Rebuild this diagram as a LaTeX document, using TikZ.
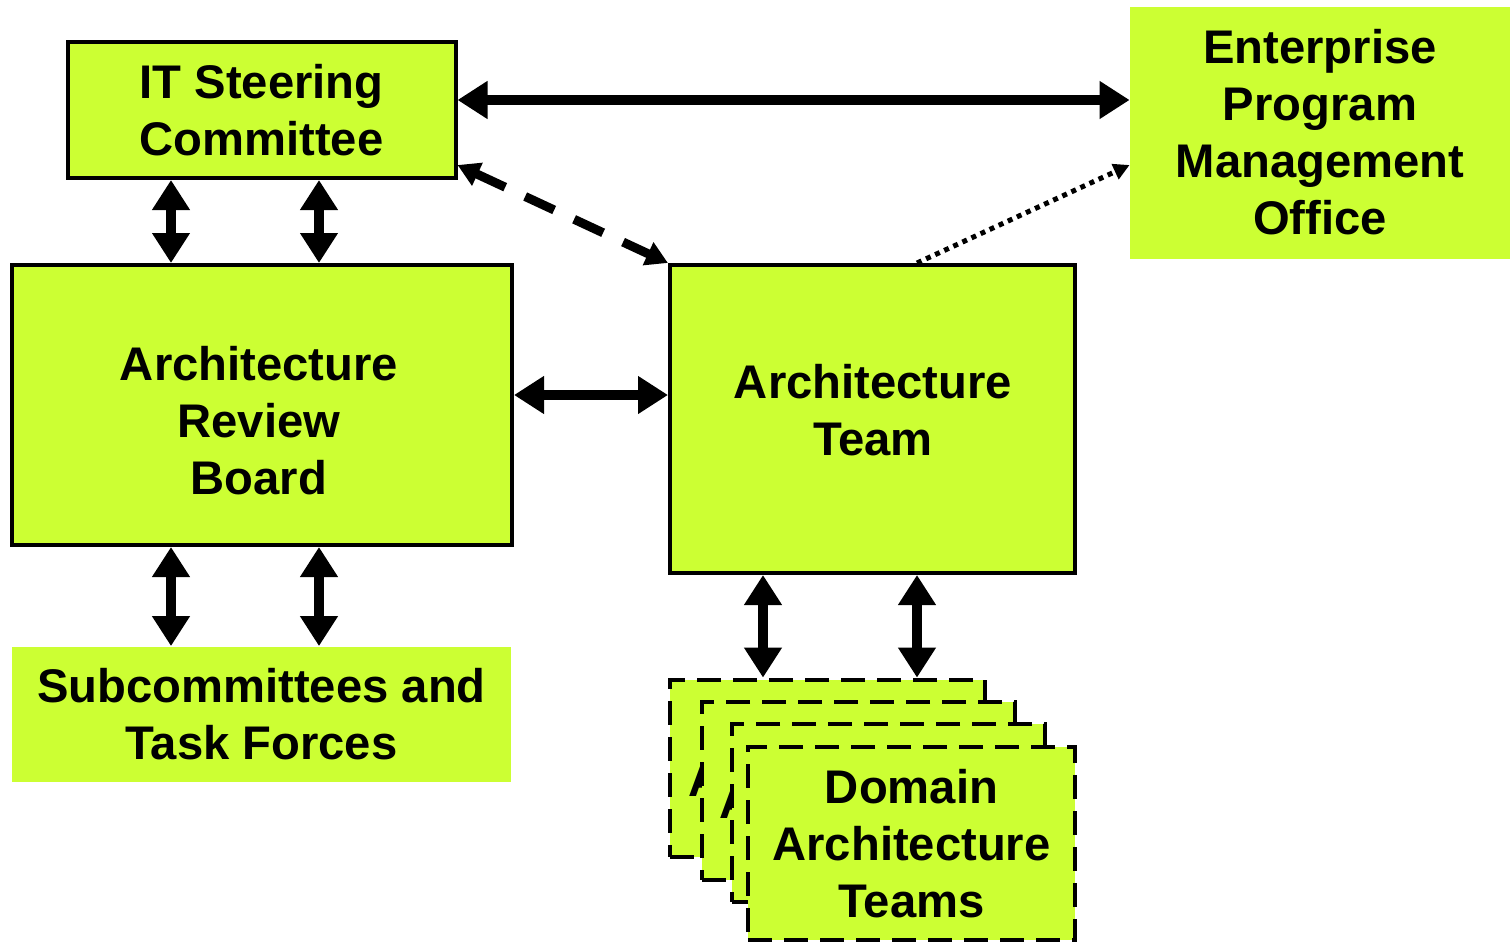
\documentclass[tikz,border=0pt]{standalone}
\usepackage{fontspec}
\setmainfont{Liberation Sans}
\usetikzlibrary{arrows.meta}
\definecolor{lime}{HTML}{CCFF33}
\tikzset{
  label text/.style={inner sep=0pt, align=center, font=\bfseries\fontsize{23.6pt}{28.5pt}\selectfont},
  box/.style={fill=lime, inner sep=0pt, align=center, font=\bfseries\fontsize{23.6pt}{28.5pt}\selectfont},
  framed/.style={box, draw=black, line width=2pt},
  card/.style={box, draw=black, line width=2.4pt, dash pattern=on 12pt off 6pt},
  big/.style={line width=5pt, {Triangle[length=15pt,width=18pt]}-{Triangle[length=15pt,width=18pt]}},
  dashedarrow/.style={line width=4.5pt, dash pattern=on 16pt off 11pt, {Triangle[length=11pt,width=12pt]}-{Triangle[length=11pt,width=12pt]}},
  dottedarrow/.style={line width=2.5pt, dash pattern=on 2.5pt off 2.5pt, -{Triangle[length=8pt,width=8pt]}}
}
\begin{document}
\begin{tikzpicture}[x=0.5pt,y=-0.5pt]
\useasboundingbox (0,0) rectangle (1510,942);
% boxes
\node[framed, minimum width=194pt, minimum height=68pt] (itsc) at (261.5,110) {IT Steering\\Committee};
\node[box, minimum width=190pt, minimum height=126pt] (epmo) at (1320,132.5) {Enterprise\\Program\\Management\\Office};
\node[framed, minimum width=250pt, minimum height=140pt] (arb) at (262,405) {};
\node[label text] (arbtext) at (259,421) {Architecture\\Review\\Board};
\node[framed, minimum width=202.5pt, minimum height=154pt] (at) at (872.5,419) {};
\node[label text] (attext) at (873,410) {Architecture\\Team};
\node[box, minimum width=249.5pt, minimum height=67.5pt] (sub) at (261.5,714) {Subcommittees and\\Task Forces};
% stacked cards
\node[card, minimum width=157.5pt, minimum height=88.5pt] (c1) at (827.5,768.5) {};
\node[label text] (c1t) at (827.5,780) {Domain\\Architecture\\Teams};
\node[card, minimum width=156.5pt, minimum height=89pt] (c2) at (858.5,791) {};
\node[label text] (c2t) at (858.5,802) {Domain\\Architecture\\Teams};
\node[card, minimum width=156.5pt, minimum height=89pt] (c3) at (888.5,813) {};
\node[label text] (c3t) at (888.5,824) {Domain\\Architecture\\Teams};
\node[card, minimum width=163.5pt, minimum height=96.5pt] (c4) at (911.5,843.5) {Domain\\Architecture\\Teams};
% connectors
\draw[big] (itsc.east |- 0,100) -- (epmo.west |- 0,100);
\draw[big] (171,0 |- itsc.south) -- (171,0 |- arb.north);
\draw[big] (319,0 |- itsc.south) -- (319,0 |- arb.north);
\draw[big] (arb.east |- 0,395) -- (at.west |- 0,395);
\draw[big] (171,0 |- arb.south) -- (171,0 |- sub.north);
\draw[big] (319,0 |- arb.south) -- (319,0 |- sub.north);
\draw[big] (763,0 |- at.south) -- (763,0 |- c1.north);
\draw[big] (917,0 |- at.south) -- (917,0 |- c1.north);
\draw[dashedarrow] (itsc.east |- 0,165) -- (at.north west);
\draw[dottedarrow] (917,0 |- at.north) -- (epmo.west |- 0,165);
\end{tikzpicture}
\end{document}
